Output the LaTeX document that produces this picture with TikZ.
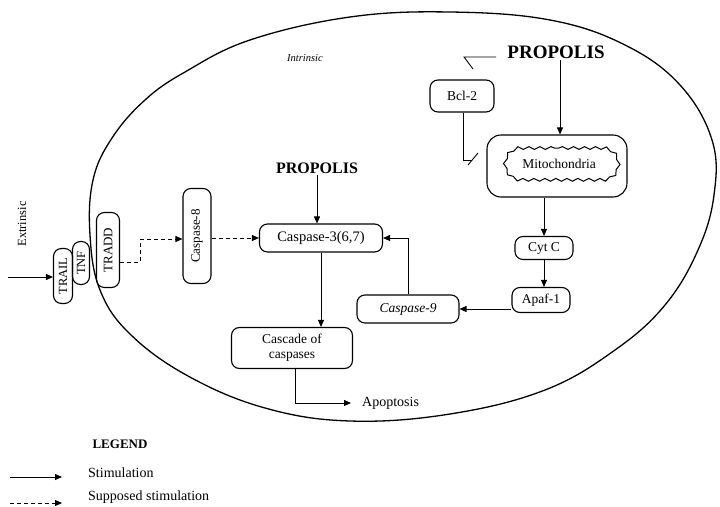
\documentclass[tikz,border=0pt]{standalone}
\usepackage{fontspec}
\setmainfont{Liberation Serif}
\usetikzlibrary{arrows.meta,shapes.misc,decorations.pathmorphing}
\begin{document}
\begin{tikzpicture}[x=1pt,y=-1pt,
 box/.style={draw, line width=1.1pt, rounded corners=8pt, inner sep=0pt, align=center, font=\fontsize{13.5}{15}\selectfont},
 arr/.style={line width=0.9pt, -{Triangle[length=7pt,width=6pt]}},
 darr/.style={arr, dash pattern=on 4pt off 3pt},
 plain/.style={line width=0.9pt},
 lbl/.style={font=\fontsize{14}{16}\selectfont, inner sep=0pt},
 prop/.style={font=\fontsize{16}{18}\selectfont\bfseries, inner sep=1pt}]
\useasboundingbox (0,0) rectangle (720,506);
\draw[line width=1.3pt] plot[smooth cycle, tension=0.65] coordinates {
 (90,235) (93,180) (112,138) (145,100) (185,72) (250,40) (350,17) (450,12)
 (550,20) (625,45) (680,85) (712,140) (714,195) (698,250) (665,305) (615,350)
 (545,390) (450,414) (350,421) (265,408) (188,376) (130,334) (100,290)};

\node[box, minimum width=19pt, minimum height=55pt, font=\fontsize{12.5}{14}\selectfont] (trail) at (63,276) {\rotatebox{90}{TRAIL}};
\node[box, minimum width=17pt, minimum height=43pt, font=\fontsize{12.5}{14}\selectfont] (tnf) at (81,263) {\rotatebox{90}{TNF}};
\node[box, minimum width=23pt, minimum height=75pt, font=\fontsize{13}{14}\selectfont] (tradd) at (108,250) {\rotatebox{90}{TRADD}};
\node[box, minimum width=28pt, minimum height=95pt, font=\fontsize{13}{14}\selectfont] (c8) at (197,236) {\rotatebox{90}{Caspase-8}};
\node[box, minimum width=123pt, minimum height=28pt, font=\fontsize{14.5}{16}\selectfont] (c3) at (321,238) {Caspase-3(6,7)};
\node[box, minimum width=121pt, minimum height=41pt] (casc) at (292,348) {Cascade of\\caspases};
\node[box, minimum width=102pt, minimum height=28pt] (c9) at (408,309) {\itshape Caspase-9};
\node[box, minimum width=58pt, minimum height=25pt] (apaf) at (541,300) {Apaf-1};
\node[box, minimum width=58pt, minimum height=23pt] (cyt) at (544,248) {Cyt C};
\node[box, minimum width=140pt, minimum height=62pt, rounded corners=14pt] (mito) at (557,166) {};
\node[draw, line width=1pt, rounded rectangle, minimum width=114pt, minimum height=32pt, inner sep=0pt,
      decorate, decoration={snake,amplitude=1.4pt,segment length=11pt},
      font=\fontsize{13.5}{15}\selectfont] (mitoin) at (559,164) {Mitochondria};
\node[box, minimum width=64pt, minimum height=32pt] (bcl) at (462,96) {Bcl-2};
\node[prop] (p1) at (317,168) {PROPOLIS};
\node[prop, font=\fontsize{19}{21}\selectfont\bfseries] (p2) at (556,52) {PROPOLIS};
\node[lbl, font=\fontsize{10.5}{12}\selectfont\itshape] (intr) at (305,58) {Intrinsic};
\node[lbl, font=\fontsize{12.5}{14}\selectfont, rotate=90] (extr) at (22,224) {Extrinsic};
\node[lbl, anchor=west] (apop) at (362,403) {Apoptosis};

% extrinsic input
\coordinate (e0) at (8,277);
\draw[arr] (e0) -- (e0 -| trail.west);
% TRADD -> Caspase-8 (supposed)
\coordinate (d1) at (140,262);
\coordinate (d2) at (140,239);
\draw[plain, dash pattern=on 4pt off 3pt] (tradd.east |- d1) -- (d1) -- (d2);
\draw[darr] (d2) -- (d2 -| c8.west);
% Caspase-8 -> Caspase-3
\draw[darr] (c8.east |- c3) -- (c3.west);
% Propolis -> Caspase-3
\draw[arr] (p1.south) -- (p1.south |- c3.north);
% Caspase-3 -> cascade
\draw[arr] (c3.south) -- (c3.south |- casc.north);
% cascade -> apoptosis
\coordinate (a1) at (295,403);
\draw[arr, shorten >=11pt] (casc.south -| a1) -- (a1) -- (apop.west);
% Caspase-9 -> Caspase-3
\draw[arr] (c9.north) |- (c3.east);
% Apaf-1 -> Caspase-9
\draw[arr] (apaf.west |- c9) -- (c9.east);
% Cyt C -> Apaf-1
\draw[arr] (cyt.south) -- (cyt.south |- apaf.north);
% Mito -> Cyt C
\draw[arr] (mito.south -| cyt) -- (cyt.north);
% Propolis -> Mito
\coordinate (m0) at (560,0);
\draw[arr] (p2.south -| m0) -- (mito.north -| m0);
% Propolis -| Bcl-2
\coordinate (b1) at (464,57);
\draw[plain, shorten <=10pt] (p2.west |- b1) -- (b1) -- ++(9,12);
% Bcl-2 -| Mito
\coordinate (b2) at (463,160);
\draw[plain] (bcl.south -| b2) -- (b2) -- ++(8,0);
\draw[plain] (b2) ++(5,5) -- ++(10,-12);

% legend
\node[font=\fontsize{13}{15}\selectfont\bfseries] (leg) at (120,444) {LEGEND};
\coordinate (l1) at (10,477);
\coordinate (l1e) at (62,477);
\draw[arr] (l1) -- (l1e);
\node[lbl, anchor=west] (s1) at (88,473) {Stimulation};
\coordinate (l2) at (10,503);
\coordinate (l2e) at (62,503);
\draw[darr] (l2) -- (l2e);
\node[lbl, anchor=west] (s2) at (88,497) {Supposed stimulation};
\end{tikzpicture}
\end{document}
